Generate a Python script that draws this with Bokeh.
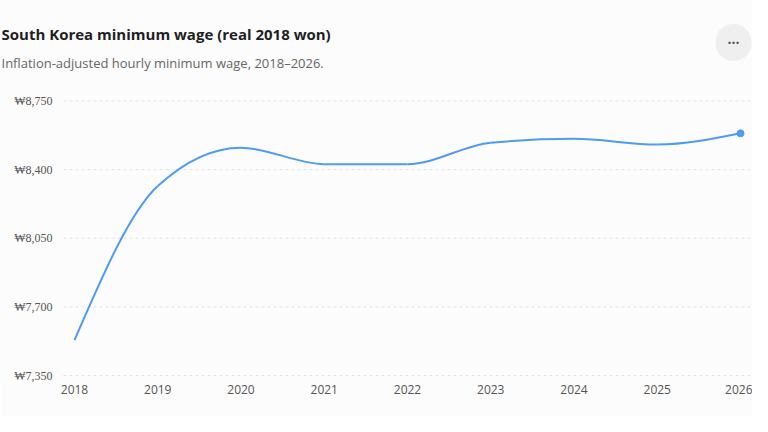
from bokeh.plotting import figure
from bokeh.models import FixedTicker, Label, LabelSet, ColumnDataSource, Range1d
from bokeh.embed import file_html
from bokeh.resources import INLINE
import numpy as np

# ---- data ----
years = [2018, 2019, 2020, 2021, 2022, 2023, 2024, 2025, 2026]
real_wage = [7530, 8316, 8512, 8428, 8428, 8537, 8557, 8528, 8585]
y_ticks = [7350, 7700, 8050, 8400, 8750]
y_tick_labels = ["\u20a97,350", "\u20a97,700", "\u20a98,050", "\u20a98,400", "\u20a98,750"]

TITLE = "South Korea minimum wage (real 2018 won)"
SUBTITLE = "Inflation-adjusted hourly minimum wage, 2018\u20132026."

FONT = "Open Sans"
LINE_COLOR = "#4d9bf5"
BG = "#fcfcfc"
TICK_COLOR = "#555555"

# ---- layout (pixels) ----
W, H = 752, 416
FRAME_BOTTOM = 384          # bottom edge of the drawing frame
VALUE_BOTTOM = 375          # pixel row of the lowest value tick
VALUE_TOP = 100.5           # pixel row of the highest value tick
PLOT_LEFT, PLOT_RIGHT = 63, 752
X_FIRST, X_LAST = 74, 740   # pixel columns of the first and last year

px_per_year = (X_LAST - X_FIRST) / (years[-1] - years[0])
x_start = years[0] - X_FIRST / px_per_year
x_end = years[-1] + (W - X_LAST) / px_per_year
px_per_won = (VALUE_BOTTOM - VALUE_TOP) / (y_ticks[-1] - y_ticks[0])
y_end = y_ticks[-1] + VALUE_TOP / px_per_won
y_start = y_ticks[0] - (FRAME_BOTTOM - VALUE_BOTTOM) / px_per_won
grid_x0 = x_start + PLOT_LEFT / px_per_year
grid_x1 = x_start + PLOT_RIGHT / px_per_year

# monotone-x cubic segments (same as d3.curveMonotoneX), drawn with bezier glyphs
x = np.array(years, dtype=float)
y = np.array(real_wage, dtype=float)
n = len(x)
h = np.diff(x)
s = np.diff(y) / h
t = np.zeros(n)
for i in range(1, n - 1):
    h0, h1 = h[i - 1], h[i]
    s0, s1 = s[i - 1], s[i]
    pp = (s0 * h1 + s1 * h0) / (h0 + h1)
    t[i] = (np.sign(s0) + np.sign(s1)) * min(abs(s0), abs(s1), 0.5 * abs(pp))
t[0] = (3 * s[0] - t[1]) / 2
t[-1] = (3 * s[-1] - t[-2]) / 2
seg = ColumnDataSource(dict(
    x0=x[:-1], y0=y[:-1], x1=x[1:], y1=y[1:],
    cx0=x[:-1] + h / 3, cy0=y[:-1] + h * t[:-1] / 3,
    cx1=x[1:] - h / 3, cy1=y[1:] - h * t[1:] / 3,
))

p = figure(
    width=W, height=H,
    output_backend="svg", toolbar_location=None,
    x_range=Range1d(x_start, x_end),
    y_range=Range1d(y_start, y_end),
    background_fill_color=BG, border_fill_color=BG,
    min_border_left=0, min_border_right=0, min_border_bottom=H - FRAME_BOTTOM, min_border_top=0,
    outline_line_color=None,
)

# dashed value grid across the plot area
grid_src = ColumnDataSource(dict(y=y_ticks, label=y_tick_labels,
                                 x0=[grid_x0] * len(y_ticks), x1=[grid_x1] * len(y_ticks)))
p.segment(x0="x0", x1="x1", y0="y", y1="y", source=grid_src,
          line_color="#e3e3e3", line_width=1, line_dash="3 3")

# value tick labels, right aligned just left of the plot area
p.add_layout(LabelSet(x=52, y="y", x_units="screen", y_units="data", text="label",
                      source=grid_src, text_font=FONT, text_font_size="12px",
                      text_color=TICK_COLOR, text_align="right", text_baseline="middle"))

p.bezier(x0="x0", y0="y0", x1="x1", y1="y1", cx0="cx0", cy0="cy0",
         cx1="cx1", cy1="cy1", source=seg, line_color=LINE_COLOR, line_width=2)
p.scatter([years[-1]], [real_wage[-1]], size=7, color=LINE_COLOR)

# axes
p.yaxis.visible = False
p.xaxis.ticker = FixedTicker(ticks=years)
xa = p.xaxis[0]
xa.axis_line_color = None
xa.major_tick_line_color = None
xa.minor_tick_line_color = None
xa.major_label_text_font = FONT
xa.major_label_text_font_size = "12px"
xa.major_label_text_color = TICK_COLOR
xa.major_label_standoff = -6
p.xgrid.grid_line_color = None
p.ygrid.grid_line_color = None

# title and subtitle (screen units, relative to the plot frame's bottom-left)
p.add_layout(Label(x=1, y=FRAME_BOTTOM - 33, x_units="screen", y_units="screen",
                   text=TITLE, text_font=FONT, text_font_size="15px",
                   text_font_style="bold", text_color="#1f1f1f",
                   text_align="left", text_baseline="middle"))
p.add_layout(Label(x=1, y=FRAME_BOTTOM - 62, x_units="screen", y_units="screen",
                   text=SUBTITLE, text_font=FONT, text_font_size="13px",
                   text_color="#666666",
                   text_align="left", text_baseline="middle"))

# "more" button in top right (round: 36 x 36 box)
p.add_layout(Label(x=733, y=FRAME_BOTTOM - 42, x_units="screen", y_units="screen",
                   text="\u00b7\u00b7\u00b7", text_font=FONT, text_font_size="14px",
                   text_font_style="bold", text_color="#555555",
                   text_align="center", text_baseline="middle",
                   background_fill_color="#efefef", border_radius=18,
                   padding=(12, 9)))

open("out.html", "w").write(file_html(p, INLINE))
